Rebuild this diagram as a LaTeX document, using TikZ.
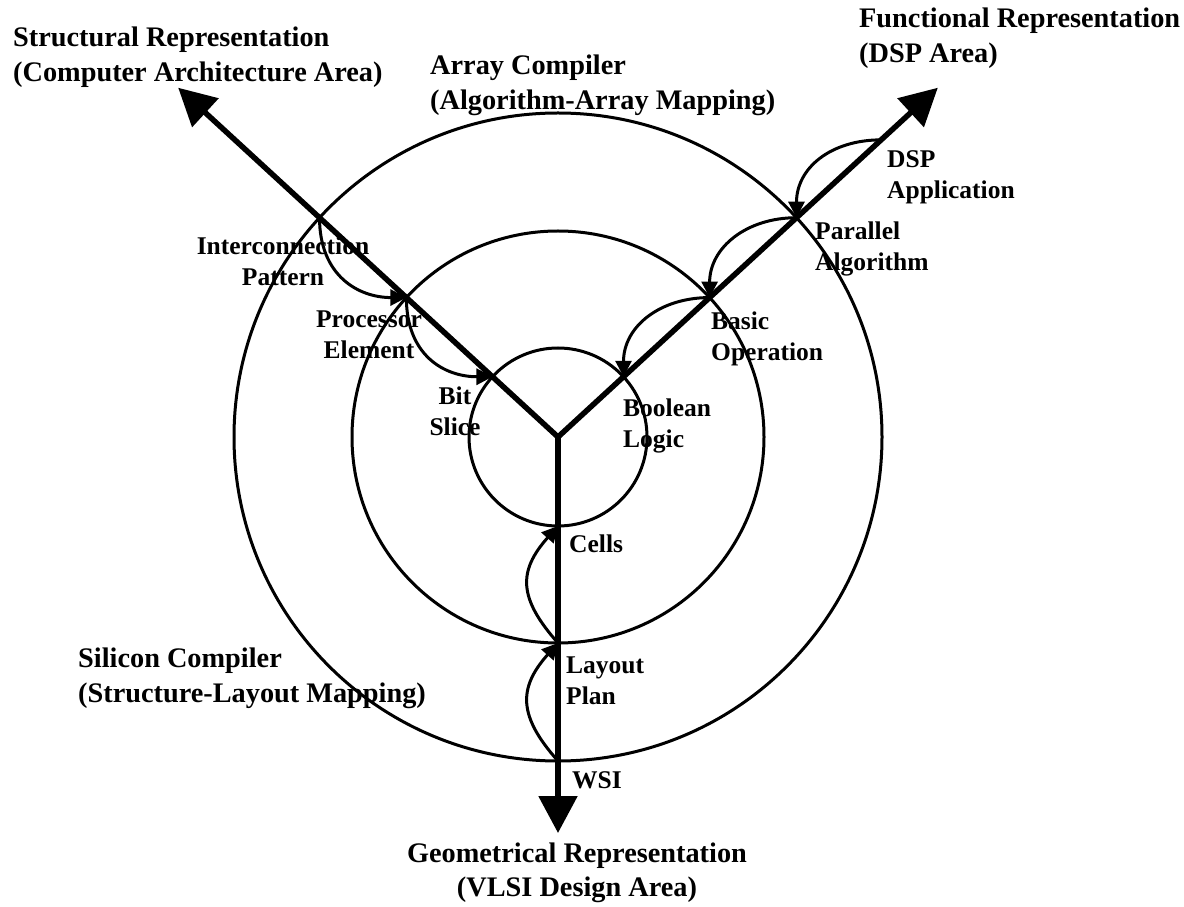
\documentclass[tikz,border=0pt]{standalone}
\usepackage{fontspec}
\setmainfont{Liberation Serif}
\usetikzlibrary{arrows.meta}
\newcommand\labL[2]{\begin{tabular}[t]{@{}l@{}}#1\\#2\end{tabular}}
\newcommand\labC[2]{\begin{tabular}[t]{@{}c@{}}#1\\#2\end{tabular}}
\begin{document}
\begin{tikzpicture}[x=1pt,y=1pt,
  big/.style={font=\fontsize{28.3}{34.5}\selectfont\bfseries, inner sep=0pt},
  small/.style={font=\fontsize{25.5}{31}\selectfont\bfseries, inner sep=0pt},
  ring/.style={line width=3pt},
  axis/.style={line width=5.5pt, line join=miter},
  trans/.style={line width=3pt, -{Triangle[length=16pt,width=16pt]}}
]
\useasboundingbox (0,0) rectangle (1184,906);
\coordinate (c) at (558,469);
% rings
\draw[ring] (c) circle[radius=324];
\draw[ring] (c) circle[radius=206];
\draw[ring] (c) circle[radius=89];
% intersection points
\path (c) ++(137.4:324) coordinate (oL);
\path (c) ++(137.4:206) coordinate (mL);
\path (c) ++(137.4:89) coordinate (iL);
\path (c) ++(42.6:324) coordinate (oR);
\path (c) ++(42.6:206) coordinate (mR);
\path (c) ++(42.6:89) coordinate (iR);
\path (c) ++(42.6:439) coordinate (dsp);
\path (c) ++(0,-324) coordinate (oB);
\path (c) ++(0,-206) coordinate (mB);
\path (c) ++(0,-89) coordinate (iB);
\path (c) ++(137.4:516) coordinate (tL);
\path (c) ++(42.6:516) coordinate (tR);
\path (c) ++(0,-396) coordinate (tB);
% axes
\draw[axis, {Triangle[length=37pt,width=38pt]}-{Triangle[length=37pt,width=38pt]}] (tL) -- (c) -- (tR);
\draw[axis, -{Triangle[length=37pt,width=38pt]}] (c) -- (tB);
% transition arrows
\draw[trans] (oL) .. controls +(0,-58) and +(-48,0) .. (mL);
\draw[trans] (mL) .. controls +(0,-58) and +(-48,0) .. (iL);
\draw[trans] (dsp) .. controls +(-50,0) and +(0,50) .. (oR);
\draw[trans] (oR) .. controls +(-50,0) and +(0,50) .. (mR);
\draw[trans] (mR) .. controls +(-50,0) and +(0,50) .. (iR);
\draw[trans] (oB) .. controls +(-40,45) and +(-40,-45) .. (mB);
\draw[trans] (mB) .. controls +(-40,45) and +(-40,-45) .. (iB);
% labels
\node[big, anchor=base west] (struct) at (13,859) {\labL{Structural Representation}{(Computer Architecture Area)}};
\node[big, anchor=base west] (array) at (430,831) {\labL{Array Compiler}{(Algorithm-Array Mapping)}};
\node[big, anchor=base west] (func) at (859,878) {\labL{Functional Representation}{(DSP Area)}};
\node[small, anchor=base west] (dspl) at (887,738) {\labL{DSP}{Application}};
\node[small, anchor=base west] (par) at (815,666) {\labL{Parallel}{Algorithm}};
\node[small, anchor=base west] (basic) at (711,576) {\labL{Basic}{Operation}};
\node[small, anchor=base west] (bool) at (623,489) {\labL{Boolean}{Logic}};
\node[small, anchor=base] (inter) at (283,651) {\labC{Interconnection}{Pattern}};
\node[small, anchor=base] (proc) at (369,578) {\labC{Processor}{Element}};
\node[small, anchor=base] (bit) at (455,501) {\labC{Bit}{Slice}};
\node[small, anchor=base west] (cells) at (569,353) {Cells};
\node[small, anchor=base west] (layout) at (566,233) {\labL{Layout}{Plan}};
\node[small, anchor=base west] (wsi) at (572,118) {WSI};
\node[big, anchor=base west] (sil) at (78,238) {\labL{Silicon Compiler}{(Structure-Layout Mapping)}};
\node[big, anchor=base] (geo) at (577,44) {\labC{Geometrical Representation}{(VLSI Design Area)}};
\end{tikzpicture}
\end{document}
